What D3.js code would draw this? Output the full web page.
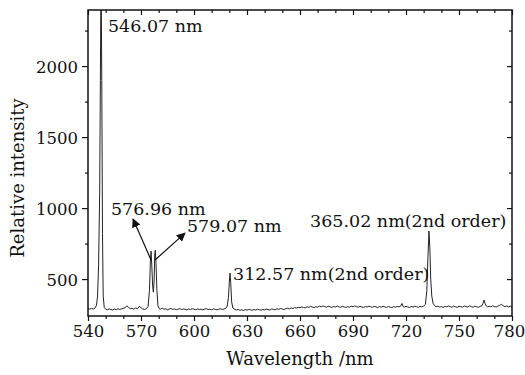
<!doctype html>
<html>
<head>
<script src="https://d3js.org/d3.v7.min.js"></script>
<style>
  body { margin: 0; background: #fff; }
  svg text { font-family: "DejaVu Serif", "Liberation Serif", serif; fill: #111; }
</style>
</head>
<body>
<svg width="525" height="375" id="chart"></svg>
<script>
// spectrum (wavelength in nm, relative intensity)
var wavelength = [540, 541, 542, 543, 544, 544.8, 545.4, 546.0, 546.6, 547.0, 547.4, 547.8, 548.2, 548.6, 549.2,
  550, 551, 552, 553, 554, 555, 556, 557, 558, 559, 560, 561, 562, 563, 564, 565, 566, 567, 568, 569, 570,
  571, 572, 573, 574, 574.8, 575.3, 575.7, 576.1, 576.6, 577.0, 577.4, 577.8, 578.1, 578.5, 579.0, 579.6, 580.3,
  581, 582, 583, 584, 585, 586, 587, 588, 589, 590, 591, 592, 593, 594, 595, 596, 597, 598, 599, 600,
  601, 602, 603, 604, 605, 606, 607, 608, 609, 610, 611, 612, 613, 614, 615, 616, 617, 618, 618.8, 619.5,
  620.0, 620.4, 620.8, 621.3, 622, 623, 624, 625, 626, 627, 628, 629, 630, 631, 632, 633, 634, 635, 636, 637,
  638, 639, 640, 641, 642, 643, 644, 645, 646, 647, 648, 649, 650, 651, 652, 653, 654, 655, 656, 657, 658, 659,
  660, 661, 662, 663, 664, 665, 666, 667, 668, 669, 670, 671, 672, 673, 674, 675, 676, 677, 678, 679, 680,
  681, 682, 683, 684, 685, 686, 687, 688, 689, 690, 691, 692, 693, 694, 695, 696, 697, 698, 699, 700,
  701, 702, 703, 704, 705, 706, 707, 708, 709, 710, 711, 712, 713, 714, 715, 716, 717, 717.7, 718.4, 719, 720,
  721, 722, 723, 724, 725, 726, 727, 728, 729, 730, 731, 731.8, 732.4, 733.0, 733.5, 734.0, 734.6, 735.3, 736.2,
  737, 738, 739, 740, 741, 742, 743, 744, 745, 746, 747, 748, 749, 750, 751, 752, 753, 754, 755, 756, 757,
  758, 759, 760, 761, 762, 763, 763.6, 764.2, 764.8, 765.5, 766, 767, 768, 769, 770, 771, 772, 773, 774, 775,
  776, 777, 778, 779, 780];
var intensity = [292, 288, 294, 289, 296, 315, 380, 600, 1100, 1900, 2700, 1900, 820, 380, 300,
  288, 284, 290, 286, 282, 289, 285, 291, 286, 290, 294, 298, 312, 300, 292, 295, 288, 297, 291, 308, 299,
  289, 286, 291, 306, 420, 620, 697, 600, 450, 408, 480, 680, 704, 610, 420, 312, 292,
  288, 295, 287, 291, 284, 289, 293, 286, 290, 284, 288, 292, 285, 290, 287, 283, 289, 286, 291, 288,
  284, 290, 286, 288, 283, 289, 292, 285, 288, 284, 290, 287, 283, 288, 291, 286, 289, 295, 310, 370,
  480, 542, 470, 340, 296, 288, 282, 286, 280, 284, 279, 285, 281, 287, 283, 280, 286, 282, 288, 284,
  281, 287, 283, 289, 285, 282, 290, 286, 284, 291, 287, 293, 289, 286, 292, 295, 290, 297, 293, 299, 296, 301,
  298, 304, 300, 297, 305, 301, 308, 303, 299, 306, 302, 309, 304, 311, 306, 302, 309, 305, 300, 307, 303,
  310, 305, 301, 308, 304, 300, 306, 302, 309, 305, 311, 306, 302, 308, 304, 300, 307, 303, 309, 305,
  301, 308, 304, 300, 306, 302, 309, 304, 300, 307, 303, 299, 306, 302, 308, 304, 310, 328, 306, 302, 308,
  304, 300, 307, 303, 309, 305, 301, 308, 304, 310, 322, 420, 650, 838, 720, 500, 380, 330, 312,
  305, 309, 302, 306, 300, 308, 304, 311, 306, 302, 310, 305, 301, 309, 306, 302, 310, 307, 303, 311, 306,
  302, 309, 305, 301, 308, 312, 330, 352, 326, 310, 304, 309, 305, 312, 307, 303, 310, 315, 322, 312,
  306, 311, 304, 309, 303];

var xTicks = [540, 570, 600, 630, 660, 690, 720, 750, 780];
var xMinor = [550, 560, 580, 590, 610, 620, 640, 650, 670, 680, 700, 710, 730, 740, 760, 770];
var yTicks = [500, 1000, 1500, 2000];
var yMinor = [750, 1250, 1750, 2250];

// peak labels, anchored in data units (wavelength, intensity of the text baseline)
var peakLabels = [
  {text: "546.07 nm", nm: 551.3, val: 2240},
  {text: "576.96 nm", nm: 553.0, val: 951},
  {text: "579.07 nm", nm: 596.0, val: 831},
  {text: "312.57 nm(2nd order)", nm: 622.1, val: 493},
  {text: "365.02 nm(2nd order)", nm: 665.7, val: 866}
];
// arrows pointing from the doublet to its labels
var arrows = [
  {nm0: 575.7, val0: 634, nm1: 565.5, val1: 923},
  {nm0: 577.9, val0: 634, nm1: 594.9, val1: 824}
];

var svg = d3.select("#chart");
var pLeft = 88, pRight = 512, pTop = 10, pBottom = 316;

var x = d3.scaleLinear().domain([540, 780]).range([pLeft, pRight]);
var y = d3.scaleLinear().domain([240, 2395]).range([pBottom, pTop]);

var defs = svg.append("defs");
defs.append("clipPath").attr("id", "plotClip")
  .append("rect").attr("x", pLeft).attr("y", pTop)
  .attr("width", pRight - pLeft).attr("height", pBottom - pTop);

defs.append("marker")
  .attr("id", "arrowHead")
  .attr("viewBox", "0 0 10 10")
  .attr("refX", 9).attr("refY", 5)
  .attr("markerWidth", 9).attr("markerHeight", 9)
  .attr("markerUnits", "userSpaceOnUse")
  .attr("orient", "auto")
  .append("path").attr("d", "M0,0L10,5L0,10z").attr("fill", "#111");

// spectrum
var pts = wavelength.map(function (w, i) { return [w, intensity[i]]; });
svg.append("path")
  .datum(pts)
  .attr("clip-path", "url(#plotClip)")
  .attr("fill", "none")
  .attr("stroke", "#222")
  .attr("stroke-width", 1)
  .attr("d", d3.line().x(function (d) { return x(d[0]); }).y(function (d) { return y(d[1]); }));

// axes
function styleAxis(g) {
  g.select(".domain").remove();
  g.selectAll("line").attr("stroke", "#111").attr("stroke-width", 1.2);
}

svg.append("g").attr("transform", "translate(0," + pBottom + ")")
  .call(d3.axisBottom(x).tickValues(xMinor).tickSize(3).tickFormat("")).call(styleAxis);
var gx = svg.append("g").attr("transform", "translate(0," + pBottom + ")");
gx.call(d3.axisBottom(x).tickValues(xTicks).tickSize(5).tickFormat(d3.format("d"))).call(styleAxis);
gx.selectAll("text").attr("y", 21).attr("dy", 0).style("font-size", "16.5px")
  .attr("x", function (d) { return d === 780 ? -3 : 0; });

svg.append("g").attr("transform", "translate(" + pLeft + ",0)")
  .call(d3.axisLeft(y).tickValues(yMinor).tickSize(3).tickFormat("")).call(styleAxis);
var gy = svg.append("g").attr("transform", "translate(" + pLeft + ",0)");
gy.call(d3.axisLeft(y).tickValues(yTicks).tickSize(6).tickFormat(d3.format("d"))).call(styleAxis);
gy.selectAll("text").attr("x", -10).attr("dy", "0.36em").style("font-size", "16.5px");

// mirrored ticks on top and right, pointing inward
svg.append("g").attr("transform", "translate(0," + pTop + ")")
  .call(d3.axisBottom(x).tickValues(xMinor).tickSize(3).tickFormat("")).call(styleAxis);
svg.append("g").attr("transform", "translate(0," + pTop + ")")
  .call(d3.axisBottom(x).tickValues(xTicks).tickSize(5).tickFormat("")).call(styleAxis);
svg.append("g").attr("transform", "translate(" + pRight + ",0)")
  .call(d3.axisLeft(y).tickValues(yMinor).tickSize(3).tickFormat("")).call(styleAxis);
svg.append("g").attr("transform", "translate(" + pRight + ",0)")
  .call(d3.axisLeft(y).tickValues(yTicks).tickSize(5).tickFormat("")).call(styleAxis);

// frame
svg.append("rect")
  .attr("x", pLeft).attr("y", pTop)
  .attr("width", pRight - pLeft).attr("height", pBottom - pTop)
  .attr("fill", "none").attr("stroke", "#111").attr("stroke-width", 1.5);

// axis titles
svg.append("text")
  .attr("x", 300).attr("y", 365)
  .attr("text-anchor", "middle")
  .style("font-size", "18px")
  .text("Wavelength /nm");

svg.append("text")
  .attr("transform", "translate(24,178)rotate(-90)")
  .attr("text-anchor", "middle")
  .style("font-size", "18px")
  .text("Relative intensity");

// peak labels and arrows
svg.selectAll(".peak")
  .data(peakLabels)
  .enter().append("text")
  .attr("class", "peak")
  .attr("x", function (d) { return x(d.nm); })
  .attr("y", function (d) { return y(d.val); })
  .style("font-size", "17.5px")
  .text(function (d) { return d.text; });

svg.selectAll(".arrow")
  .data(arrows)
  .enter().append("line")
  .attr("class", "arrow")
  .attr("x1", function (d) { return x(d.nm0); })
  .attr("y1", function (d) { return y(d.val0); })
  .attr("x2", function (d) { return x(d.nm1); })
  .attr("y2", function (d) { return y(d.val1); })
  .attr("stroke", "#111")
  .attr("stroke-width", 1.2)
  .attr("marker-end", "url(#arrowHead)");
</script>
</body>
</html>
